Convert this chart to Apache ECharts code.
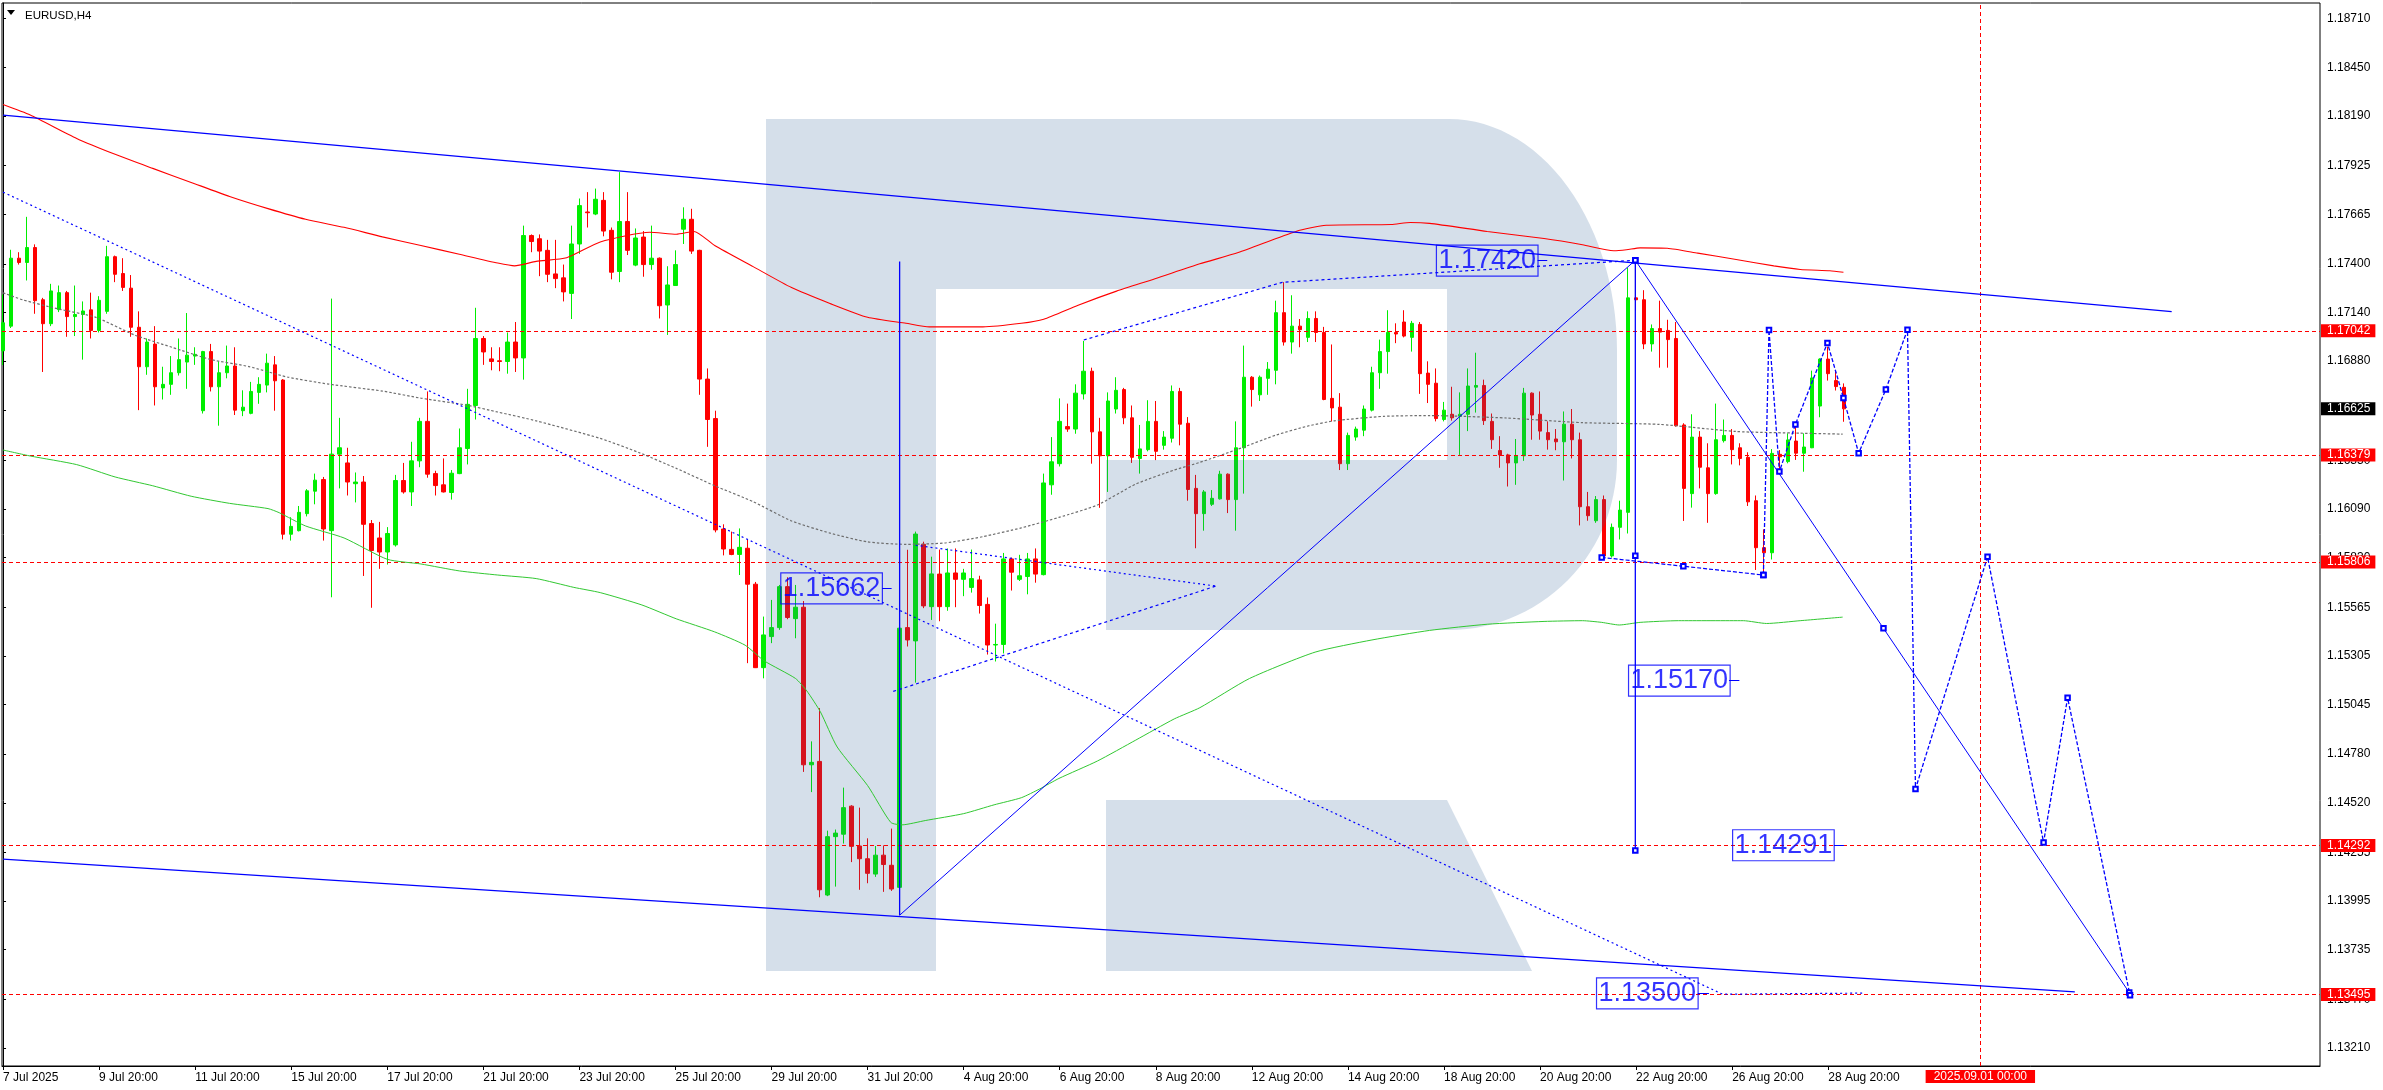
<!DOCTYPE html>
<html><head><meta charset="utf-8">
<script src="https://cdn.jsdelivr.net/npm/echarts@6/dist/echarts.min.js"></script>
<style>html,body{margin:0;padding:0;background:#fff}#c{width:2383px;height:1090px}</style>
</head><body><div id="c"></div><script>
// ---------- data ----------
const symbolTitle = 'EURUSD,H4';
const xTickIdx = [0,12,24,36,48,60,72,84,96,108,120,132,144,156,168,180,192,204,216,228];
const xTickLabels = ['7 Jul 2025','9 Jul 20:00','11 Jul 20:00','15 Jul 20:00','17 Jul 20:00','21 Jul 20:00','23 Jul 20:00','25 Jul 20:00','29 Jul 20:00','31 Jul 20:00','4 Aug 20:00','6 Aug 20:00','8 Aug 20:00','12 Aug 20:00','14 Aug 20:00','18 Aug 20:00','20 Aug 20:00','22 Aug 20:00','26 Aug 20:00','28 Aug 20:00'];
const yTicks = [1.18710,1.18450,1.18190,1.17925,1.17665,1.17400,1.17140,1.16880,1.16620,1.16350,1.16090,1.15830,1.15565,1.15305,1.15045,1.14780,1.14520,1.14255,1.13995,1.13735,1.13470,1.13210];
// H4 candles [open, close, low, high], index = bar number from the left edge
const candles = [
[1.16935,1.17085,1.16859,1.17236],[1.17067,1.17430,1.17057,1.17475],[1.17430,1.17407,1.17396,1.17462],[1.17407,1.17487,1.17311,1.17651],
[1.17487,1.17203,1.17133,1.17504],[1.17208,1.17080,1.16822,1.17218],[1.17080,1.17255,1.17067,1.17293],[1.17155,1.17246,1.17142,1.17284],
[1.17246,1.17118,1.17010,1.17255],[1.17118,1.17129,1.17014,1.17284],[1.17129,1.17148,1.16888,1.17199],[1.17154,1.17044,1.17001,1.17246],
[1.17044,1.17205,1.17033,1.17227],[1.17146,1.17438,1.17133,1.17496],[1.17438,1.17344,1.17302,1.17444],[1.17348,1.17274,1.17255,1.17430],
[1.17270,1.17061,1.17010,1.17340],[1.17061,1.16850,1.16618,1.17146],[1.16850,1.16982,1.16807,1.17001],[1.16971,1.16743,1.16643,1.17067],
[1.16737,1.16756,1.16675,1.16850],[1.16756,1.16818,1.16700,1.16907],[1.16818,1.16888,1.16803,1.17001],[1.16875,1.16912,1.16732,1.17137],
[1.16907,1.16916,1.16860,1.16954],[1.16615,1.16931,1.16600,1.16935],[1.16931,1.16743,1.16718,1.16972],[1.16743,1.16818,1.16535,1.16879],
[1.16818,1.16854,1.16788,1.16963],[1.16854,1.16618,1.16592,1.16954],[1.16615,1.16634,1.16586,1.16724],[1.16601,1.16718,1.16596,1.16769],
[1.16713,1.16756,1.16652,1.16794],[1.16752,1.16869,1.16713,1.16920],[1.16860,1.16775,1.16615,1.16907],[1.16779,1.15955,1.15927,1.16784],
[1.15955,1.15997,1.15921,1.16046],[1.15974,1.16072,1.15970,1.16106],[1.16065,1.16187,1.16050,1.16196],[1.16185,1.16244,1.16115,1.16279],
[1.16247,1.15983,1.15921,1.16261],[1.15974,1.16383,1.15618,1.17214],[1.16383,1.16417,1.16200,1.16577],[1.16336,1.16234,1.16162,1.16417],
[1.16225,1.16234,1.16125,1.16285],[1.16234,1.16008,1.15732,1.16266],[1.16012,1.15868,1.15562,1.16031],[1.15935,1.15860,1.15770,1.16021],
[1.15860,1.15959,1.15793,1.15993],[1.15898,1.16242,1.15889,1.16272],[1.16242,1.16181,1.16172,1.16336],[1.16181,1.16347,1.16106,1.16449],
[1.16347,1.16558,1.16313,1.16577],[1.16558,1.16276,1.16257,1.16718],[1.16279,1.16215,1.16162,1.16294],[1.16219,1.16181,1.16178,1.16360],
[1.16178,1.16281,1.16140,1.16298],[1.16279,1.16417,1.16276,1.16520],[1.16413,1.16649,1.16328,1.16732],[1.16643,1.17001,1.16568,1.17165],
[1.17001,1.16929,1.16860,1.17014],[1.16892,1.16878,1.16831,1.16954],[1.16882,1.16878,1.16826,1.16954],[1.16878,1.16982,1.16813,1.17033],
[1.16982,1.16897,1.16822,1.17089],[1.16897,1.17551,1.16781,1.17604],[1.17551,1.17519,1.17462,1.17557],[1.17534,1.17468,1.17334,1.17557],
[1.17472,1.17344,1.17302,1.17528],[1.17346,1.17321,1.17270,1.17528],[1.17325,1.17250,1.17199,1.17396],[1.17242,1.17506,1.17105,1.17604],
[1.17506,1.17711,1.17453,1.17749],[1.17677,1.17673,1.17594,1.17783],[1.17666,1.17745,1.17660,1.17802],[1.17739,1.17575,1.17547,1.17783],
[1.17579,1.17355,1.17317,1.17594],[1.17359,1.17626,1.17302,1.17890],[1.17626,1.17472,1.17447,1.17783],[1.17393,1.17538,1.17387,1.17589],
[1.17543,1.17396,1.17331,1.17575],[1.17396,1.17430,1.17368,1.17604],[1.17430,1.17176,1.17108,1.17434],[1.17180,1.17287,1.17020,1.17387],
[1.17284,1.17396,1.17284,1.17472],[1.17585,1.17638,1.17506,1.17702],[1.17638,1.17468,1.17453,1.17694],[1.17472,1.16784,1.16700,1.17475],
[1.16784,1.16568,1.16422,1.16841],[1.16573,1.15978,1.15965,1.16615],[1.15983,1.15876,1.15842,1.16008],[1.15874,1.15847,1.15843,1.15969],
[1.15847,1.15885,1.15737,1.15986],[1.15880,1.15688,1.15266,1.15928],[1.15688,1.15242,1.15240,1.15700],[1.15242,1.15417,1.15185,1.15515],
[1.15408,1.15456,1.15373,1.15604],[1.15456,1.15675,1.15444,1.15684],[1.15675,1.15510,1.15501,1.15725],[1.15504,1.15565,1.15399,1.15684],
[1.15565,1.14723,1.14685,1.15598],[1.14723,1.14736,1.14577,1.14848],[1.14741,1.14055,1.14015,1.15026],[1.14027,1.14339,1.14021,1.14371],
[1.14339,1.14358,1.14072,1.14377],[1.14352,1.14494,1.14302,1.14601],[1.14502,1.14287,1.14203,1.14507],[1.14289,1.14221,1.14055,1.14494],
[1.14221,1.14143,1.14090,1.14330],[1.14139,1.14240,1.14124,1.14289],[1.14240,1.14190,1.14044,1.14292],[1.14186,1.14059,1.14049,1.14382],
[1.14068,1.15453,1.14050,1.15470],[1.15456,1.15390,1.15355,1.15872],[1.15385,1.15956,1.15162,1.15969],[1.15901,1.15572,1.15560,1.15915],
[1.15568,1.15743,1.15497,1.15835],[1.15742,1.15568,1.15490,1.15873],[1.15568,1.15748,1.15546,1.15879],[1.15748,1.15714,1.15565,1.15879],
[1.15714,1.15748,1.15624,1.15770],[1.15671,1.15718,1.15643,1.15873],[1.15711,1.15574,1.15531,1.15733],[1.15580,1.15363,1.15312,1.15617],
[1.15363,1.15366,1.15275,1.15477],[1.15366,1.15823,1.15318,1.15855],[1.15823,1.15752,1.15654,1.15830],[1.15714,1.15733,1.15705,1.15845],
[1.15729,1.15823,1.15634,1.15855],[1.15823,1.15742,1.15696,1.15879],[1.15739,1.16229,1.15735,1.16279],[1.16219,1.16342,1.16166,1.16474],
[1.16332,1.16558,1.16317,1.16681],[1.16530,1.16517,1.16502,1.16653],[1.16517,1.16709,1.16492,1.16756],[1.16705,1.16826,1.16675,1.16988],
[1.16826,1.16502,1.16332,1.16845],[1.16502,1.16374,1.16096,1.16577],[1.16374,1.16667,1.16181,1.16713],[1.16624,1.16724,1.16600,1.16794],
[1.16728,1.16577,1.16543,1.16737],[1.16577,1.16366,1.16336,1.16643],[1.16360,1.16411,1.16279,1.16539],[1.16407,1.16558,1.16398,1.16671],
[1.16558,1.16398,1.16351,1.16667],[1.16430,1.16474,1.16407,1.16506],[1.16468,1.16718,1.16445,1.16750],[1.16718,1.16543,1.16430,1.16737],
[1.16548,1.16194,1.16134,1.16581],[1.16200,1.16065,1.15880,1.16272],[1.16065,1.16181,1.15974,1.16191],[1.16115,1.16147,1.16106,1.16191],
[1.16144,1.16276,1.16140,1.16294],[1.16276,1.16140,1.16068,1.16280],[1.16140,1.16417,1.15974,1.16558],[1.16417,1.16794,1.16172,1.16963],
[1.16794,1.16728,1.16637,1.16800],[1.16700,1.16794,1.16667,1.16803],[1.16788,1.16837,1.16700,1.16875],[1.16831,1.17139,1.16756,1.17203],
[1.17139,1.16982,1.16963,1.17302],[1.16982,1.17067,1.16920,1.17232],[1.17067,1.17048,1.16954,1.17105],[1.17007,1.17108,1.16982,1.17146],
[1.17108,1.17033,1.16982,1.17146],[1.17033,1.16675,1.16671,1.17063],[1.16681,1.16630,1.16558,1.16969],[1.16634,1.16332,1.16298,1.16709],
[1.16332,1.16483,1.16298,1.16498],[1.16474,1.16517,1.16455,1.16530],[1.16511,1.16624,1.16479,1.16643],[1.16618,1.16818,1.16611,1.16850],
[1.16818,1.16931,1.16732,1.16995],[1.16931,1.17033,1.16813,1.17152],[1.17033,1.17025,1.16976,1.17082],[1.17089,1.17014,1.17007,1.17152],
[1.17007,1.17082,1.16931,1.17095],[1.17076,1.16813,1.16705,1.17089],[1.16816,1.16756,1.16656,1.16879],[1.16762,1.16573,1.16558,1.16841],
[1.16568,1.16618,1.16558,1.16662],[1.16596,1.16577,1.16562,1.16743],[1.16586,1.16596,1.16379,1.16713],[1.16596,1.16747,1.16506,1.16841],
[1.16741,1.16750,1.16605,1.16925],[1.16750,1.16562,1.16539,1.16781],[1.16558,1.16460,1.16411,1.16600],[1.16402,1.16379,1.16310,1.16479],
[1.16379,1.16336,1.16210,1.16385],[1.16336,1.16374,1.16219,1.16464],[1.16374,1.16709,1.16347,1.16737],[1.16709,1.16592,1.16460,1.16713],
[1.16596,1.16506,1.16460,1.16718],[1.16498,1.16460,1.16407,1.16558],[1.16464,1.16449,1.16404,1.16517],[1.16449,1.16543,1.16242,1.16611],
[1.16543,1.16460,1.16360,1.16624],[1.16460,1.16102,1.16002,1.16498],[1.16102,1.16054,1.16027,1.16181],[1.16027,1.16140,1.16016,1.16159],
[1.16140,1.15839,1.15820,1.16162],[1.15839,1.15992,1.15830,1.16012],[1.15992,1.16084,1.15927,1.16134],[1.16072,1.17218,1.15959,1.17380],
[1.17218,1.17208,1.17150,1.17420],[1.17208,1.16972,1.16944,1.17259],[1.16972,1.17054,1.16931,1.17076],[1.17054,1.17035,1.16845,1.17203],
[1.17044,1.16995,1.16845,1.17101],[1.17001,1.16535,1.16530,1.17089],[1.16539,1.16200,1.16026,1.16548],[1.16172,1.16474,1.16097,1.16596],
[1.16474,1.16313,1.16200,1.16506],[1.16310,1.16172,1.16016,1.16441],[1.16172,1.16460,1.16166,1.16653],[1.16455,1.16483,1.16445,1.16568],
[1.16483,1.16407,1.16328,1.16517],[1.16417,1.16360,1.16323,1.16441],[1.16366,1.16128,1.16106,1.16393],[1.16134,1.15883,1.15764,1.16162],
[1.15883,1.15856,1.15746,1.15981],[1.15856,1.16387,1.15820,1.16410],[1.16382,1.16369,1.16281,1.16405],[1.16343,1.16459,1.16334,1.16494],
[1.16453,1.16388,1.16352,1.16544],[1.16388,1.16421,1.16289,1.16494],[1.16417,1.16790,1.16415,1.16829],[1.16640,1.16891,1.16580,1.16895],
[1.16891,1.16813,1.16776,1.16957],[1.16776,1.16744,1.16723,1.16824],[1.16740,1.16625,1.16556,1.16761]
];
// moving averages [bar, price]
const maRed = [[0,1.18251],[3.4,1.18195],[9.2,1.18070],[14.0,1.17985],[18.7,1.17910],[23.5,1.17835],[28.3,1.17760],[33.1,1.17695],[37.8,1.17638],[42.6,1.17595],[47.4,1.17544],[52.2,1.17498],[57.0,1.17451],[61.8,1.17404],[63.9,1.17389],[66.6,1.17413],[70.4,1.17432],[74.6,1.17517],[80.8,1.17569],[84.1,1.17558],[86.3,1.17573],[88.9,1.17498],[93.7,1.17385],[98.5,1.17273],[103.3,1.17188],[108.0,1.17114],[112.8,1.17082],[115.7,1.17063],[122.4,1.17063],[127.2,1.17082],[130.0,1.17104],[134.3,1.17179],[139.1,1.17254],[143.9,1.17320],[149.5,1.17400],[154.3,1.17460],[161.5,1.17573],[165.3,1.17606],[173.4,1.17610],[175.8,1.17621],[178.2,1.17616],[185.4,1.17573],[192.5,1.17535],[197.3,1.17502],[201.2,1.17470],[202.8,1.17475],[204.5,1.17485],[207.9,1.17483],[211.7,1.17457],[216.5,1.17423],[221.2,1.17389],[224.5,1.17370],[228.2,1.17363],[229.9,1.17355]];
const maGreen = [[0,1.16405],[3.4,1.16373],[9.2,1.16327],[14.0,1.16261],[18.7,1.16214],[23.5,1.16158],[28.3,1.16120],[33.1,1.16092],[34.5,1.16070],[37.8,1.15999],[42.6,1.15935],[48.0,1.15821],[52.2,1.15796],[57.0,1.15759],[61.8,1.15737],[66.6,1.15718],[71.3,1.15671],[74.6,1.15643],[79.8,1.15577],[84.1,1.15503],[88.9,1.15433],[92.7,1.15362],[95.1,1.15278],[99.0,1.15184],[100.4,1.15118],[102.1,1.15006],[104.2,1.14818],[108.0,1.14612],[110.9,1.14415],[112.3,1.14402],[115.2,1.14425],[120.0,1.14462],[123.8,1.14509],[127.2,1.14547],[129.5,1.14594],[131.9,1.14650],[136.7,1.14743],[141.5,1.14855],[146.3,1.14968],[149.5,1.15028],[155.7,1.15184],[163.9,1.15325],[171.0,1.15390],[178.2,1.15441],[185.4,1.15474],[192.5,1.15489],[197.3,1.15493],[199.7,1.15484],[201.9,1.15470],[204.5,1.15484],[209.3,1.15493],[217.4,1.15493],[220.3,1.15478],[224.5,1.15493],[229.8,1.15512]];
const maGrey = [[0,1.17245],[2.5,1.17207],[6.8,1.17160],[11.6,1.17114],[16.4,1.17020],[21.1,1.16954],[25.9,1.16889],[30.7,1.16851],[35.5,1.16795],[40.7,1.16757],[47.4,1.16720],[52.2,1.16682],[57.9,1.16645],[61.8,1.16608],[66.6,1.16561],[74.6,1.16467],[79.4,1.16392],[84.1,1.16307],[88.9,1.16214],[93.7,1.16129],[98.5,1.16026],[103.3,1.15961],[108.0,1.15914],[112.8,1.15901],[117.6,1.15908],[122.4,1.15942],[127.2,1.15989],[131.9,1.16045],[136.7,1.16111],[141.5,1.16223],[146.3,1.16298],[149.5,1.16339],[154.3,1.16410],[159.1,1.16486],[162.9,1.16532],[166.3,1.16561],[172.5,1.16585],[178.2,1.16589],[187.8,1.16576],[197.3,1.16551],[206.9,1.16542],[216.5,1.16504],[224.5,1.16495],[229.8,1.16490]];
// drawn objects [bar, price]
const channelUpper = [[0,1.18195],[270.9,1.17145]];
const channelLower = [[0,1.14219],[258.8,1.13510]];
const trendDotted = [[0,1.17783],[214.8,1.13497],[232.6,1.13503]];
const wedgeUpper = [[114.0,1.15896],[151.5,1.15678]];
const wedgeLower = [[111.2,1.15115],[151.5,1.15678]];
const topDotted = [[135.0,1.16993],[159.8,1.17301],[203.9,1.17419]];
const baseDotted = [[199.7,1.15831],[209.9,1.15784],[219.9,1.15737]];
const waveUp = [[112.0,1.13919],[203.9,1.17419]];
const waveDown = [[203.9,1.17419],[234.9,1.15452],[265.6,1.13506]];
const vLineA = [[112.0,1.17413],[112.0,1.13919]];
const vLineB = [[203.9,1.17419],[203.9,1.15840],[203.9,1.14265]];
const forecast = [[219.9,1.15737],[220.6,1.17046],[221.9,1.16290],[223.9,1.16542],[227.9,1.16977],[229.9,1.16683],[231.8,1.16388],[235.2,1.16729],[237.9,1.17048],[238.9,1.14594],[247.9,1.15834],[254.9,1.14308],[257.9,1.15081],[265.7,1.13491]];
const levels = [1.17042,1.16379,1.15806,1.14292,1.13495];
const currentPrice = 1.16625;
const dateLineBar = 247;
const dateLineLabel = '2025.09.01 00:00';
const boxTexts = ['1.17420','1.15662','1.15170','1.14291','1.13500'];
const boxBars = [185.4,103.5,209.4,222.4,205.4];
const boxPrices = [1.17417,1.15666,1.15173,1.14293,1.13501];
const boxTickSegs = [[[191.7,1.17417],[192.9,1.17417]],[[109.8,1.15666],[111.0,1.15666]],[[215.6,1.15173],[216.9,1.15173]],[[228.7,1.14293],[229.96,1.14293]],[[211.7,1.13501],[213.1,1.13501]]];

// ---------- chart ----------
const FONT = '"Liberation Sans", Arial, sans-serif';
const BLUE = '#0000ff';
const chart = echarts.init(document.getElementById('c'), null, {renderer:'canvas', devicePixelRatio:1});

function wmOutline(){
  const p=[[766,119],[1449,119]];
  for(let k=1;k<=30;k++){const t=k/30*Math.PI/2;p.push([1449+168*Math.sin(t),351-232*Math.cos(t)]);}
  p.push([1617,460]);
  for(let k=1;k<=30;k++){const t=k/30*Math.PI/2;p.push([1449+168*Math.cos(t),460+170*Math.sin(t)]);}
  p.push([1106,630],[1106,460],[1447,460],[1447,289],[936,289],[936,971],[766,971]);
  return p;
}
const WM = 'rgba(45,95,150,0.2)';

function lineSeries(data, color, width, type, opts){
  return Object.assign({type:'line', data:data, z:5, silent:true, showSymbol:false, symbol:'emptyRect', symbolSize:4.5,
    lineStyle:{color:color, width:width, type:type}, itemStyle:{color:color, borderColor:color, borderWidth:1}, animation:false}, opts||{});
}

const levelTag = {show:true, position:'end', distance:1, color:'#fff', backgroundColor:'#ff0000', fontSize:12, fontFamily:FONT, padding:[1,5,0,6], lineHeight:12};
const markData = levels.map(v=>({yAxis:v, label:Object.assign({formatter:v.toFixed(5)}, levelTag)}));
markData.push({yAxis:currentPrice, lineStyle:{color:'rgba(0,0,0,0)', width:0}, label:Object.assign({}, levelTag, {formatter:currentPrice.toFixed(5), backgroundColor:'#000'})});
markData.push({xAxis:dateLineBar, label:Object.assign({}, levelTag, {position:'start', distance:4, formatter:dateLineLabel, padding:[1,8,0,8]})});

const option = {
  animation:false,
  backgroundColor:'#fff',
  textStyle:{fontFamily:FONT},
  title:{text:symbolTitle, left:20, top:5, textStyle:{fontSize:11.5, fontWeight:'normal', color:'#000', fontFamily:FONT}},
  grid:{left:2, right:63, top:3, bottom:24, show:true, borderColor:'#000', borderWidth:1, backgroundColor:'#fff'},
  xAxis:{type:'value', min:-0.13, max:289.43,
    axisLine:{show:true, lineStyle:{color:'#000', width:1}},
    axisTick:{show:true, length:4, customValues:xTickIdx, lineStyle:{color:'#000'}},
    axisLabel:{show:true, customValues:xTickIdx, align:'left', margin:6, fontSize:12, color:'#000', fontFamily:FONT,
      formatter:v=>{const k=xTickIdx.indexOf(Math.round(v));return k>=0?xTickLabels[k]:'';}},
    splitLine:{show:false}},
  yAxis:{type:'value', position:'right', min:1.131134, max:1.187937,
    axisLine:{show:true, lineStyle:{color:'#000', width:1}},
    axisTick:{show:true, length:3, customValues:yTicks, lineStyle:{color:'#000'}},
    axisLabel:{show:true, customValues:yTicks, margin:7, fontSize:12, color:'#000', fontFamily:FONT, formatter:v=>v.toFixed(5)},
    splitLine:{show:false}},
  graphic:{elements:[
    {type:'polygon', z:3, silent:true, shape:{points:wmOutline()}, style:{fill:WM}},
    {type:'polygon', z:3, silent:true, shape:{points:[[1106,800],[1447,800],[1532,971],[1106,971]]}, style:{fill:WM}},
    {type:'polygon', z:10, silent:true, shape:{points:[[7,10],[15,10],[11,15]]}, style:{fill:'#000'}}
  ]},
  series:[
    {type:'candlestick', name:'EURUSD', z:2, silent:true,
     data:candles.map((c,i)=>[i,c[0],c[1],c[2],c[3]]),
     encode:{x:0, y:[1,2,3,4]},
     barWidth:4,
     itemStyle:{color:'#00ee00', color0:'#ff0000', borderColor:'#00ee00', borderColor0:'#ff0000', borderColorDoji:'#ff0000', borderWidth:1},
     emphasis:{disabled:true},
     markLine:{silent:true, symbol:'none', animation:false, precision:5,
       lineStyle:{color:'#ff0000', width:1, type:[4,3]}, data:markData}},
    lineSeries(maRed, '#ff0000', 1.1, 'solid', {smooth:0.2}),
    lineSeries(maGreen, '#32c832', 1, 'solid', {smooth:0.2}),
    lineSeries(maGrey, '#6e6e6e', 1.2, [2.5,2], {smooth:0.2}),
    lineSeries(channelUpper, BLUE, 1.3, 'solid'),
    lineSeries(channelLower, BLUE, 1.3, 'solid'),
    lineSeries(trendDotted, BLUE, 1.2, [2,3]),
    lineSeries(wedgeUpper, BLUE, 1.2, [2,3]),
    lineSeries(wedgeLower, BLUE, 1.2, [3,3]),
    lineSeries(topDotted, BLUE, 1.2, [3,3]),
    lineSeries(baseDotted, BLUE, 1.2, [4,2], {showSymbol:true}),
    lineSeries(waveUp, BLUE, 1, 'solid'),
    lineSeries(waveDown, BLUE, 1, 'solid', {showSymbol:true}),
    lineSeries(vLineA, BLUE, 1.3, 'solid'),
    lineSeries(vLineB, BLUE, 1.3, 'solid', {showSymbol:true}),
    lineSeries(forecast, BLUE, 1.3, [4,2], {showSymbol:true}),
    {type:'lines', coordinateSystem:'cartesian2d', z:6, silent:true, animation:false,
     lineStyle:{color:BLUE, width:1, opacity:1}, data:boxTickSegs.map(s=>({coords:s}))},
    {type:'scatter', z:7, silent:true, symbol:'circle', symbolSize:1, itemStyle:{color:'rgba(0,0,0,0)'},
     data:boxTexts.map((t,k)=>({name:t, value:[boxBars[k], boxPrices[k]]})),
     label:{show:true, position:'inside', formatter:p=>p.name, color:BLUE, fontSize:27, lineHeight:28, fontFamily:FONT,
       borderColor:BLUE, borderWidth:1.2, padding:[2,2,1,2]}}
  ]
};
chart.setOption(option);
</script></body></html>
